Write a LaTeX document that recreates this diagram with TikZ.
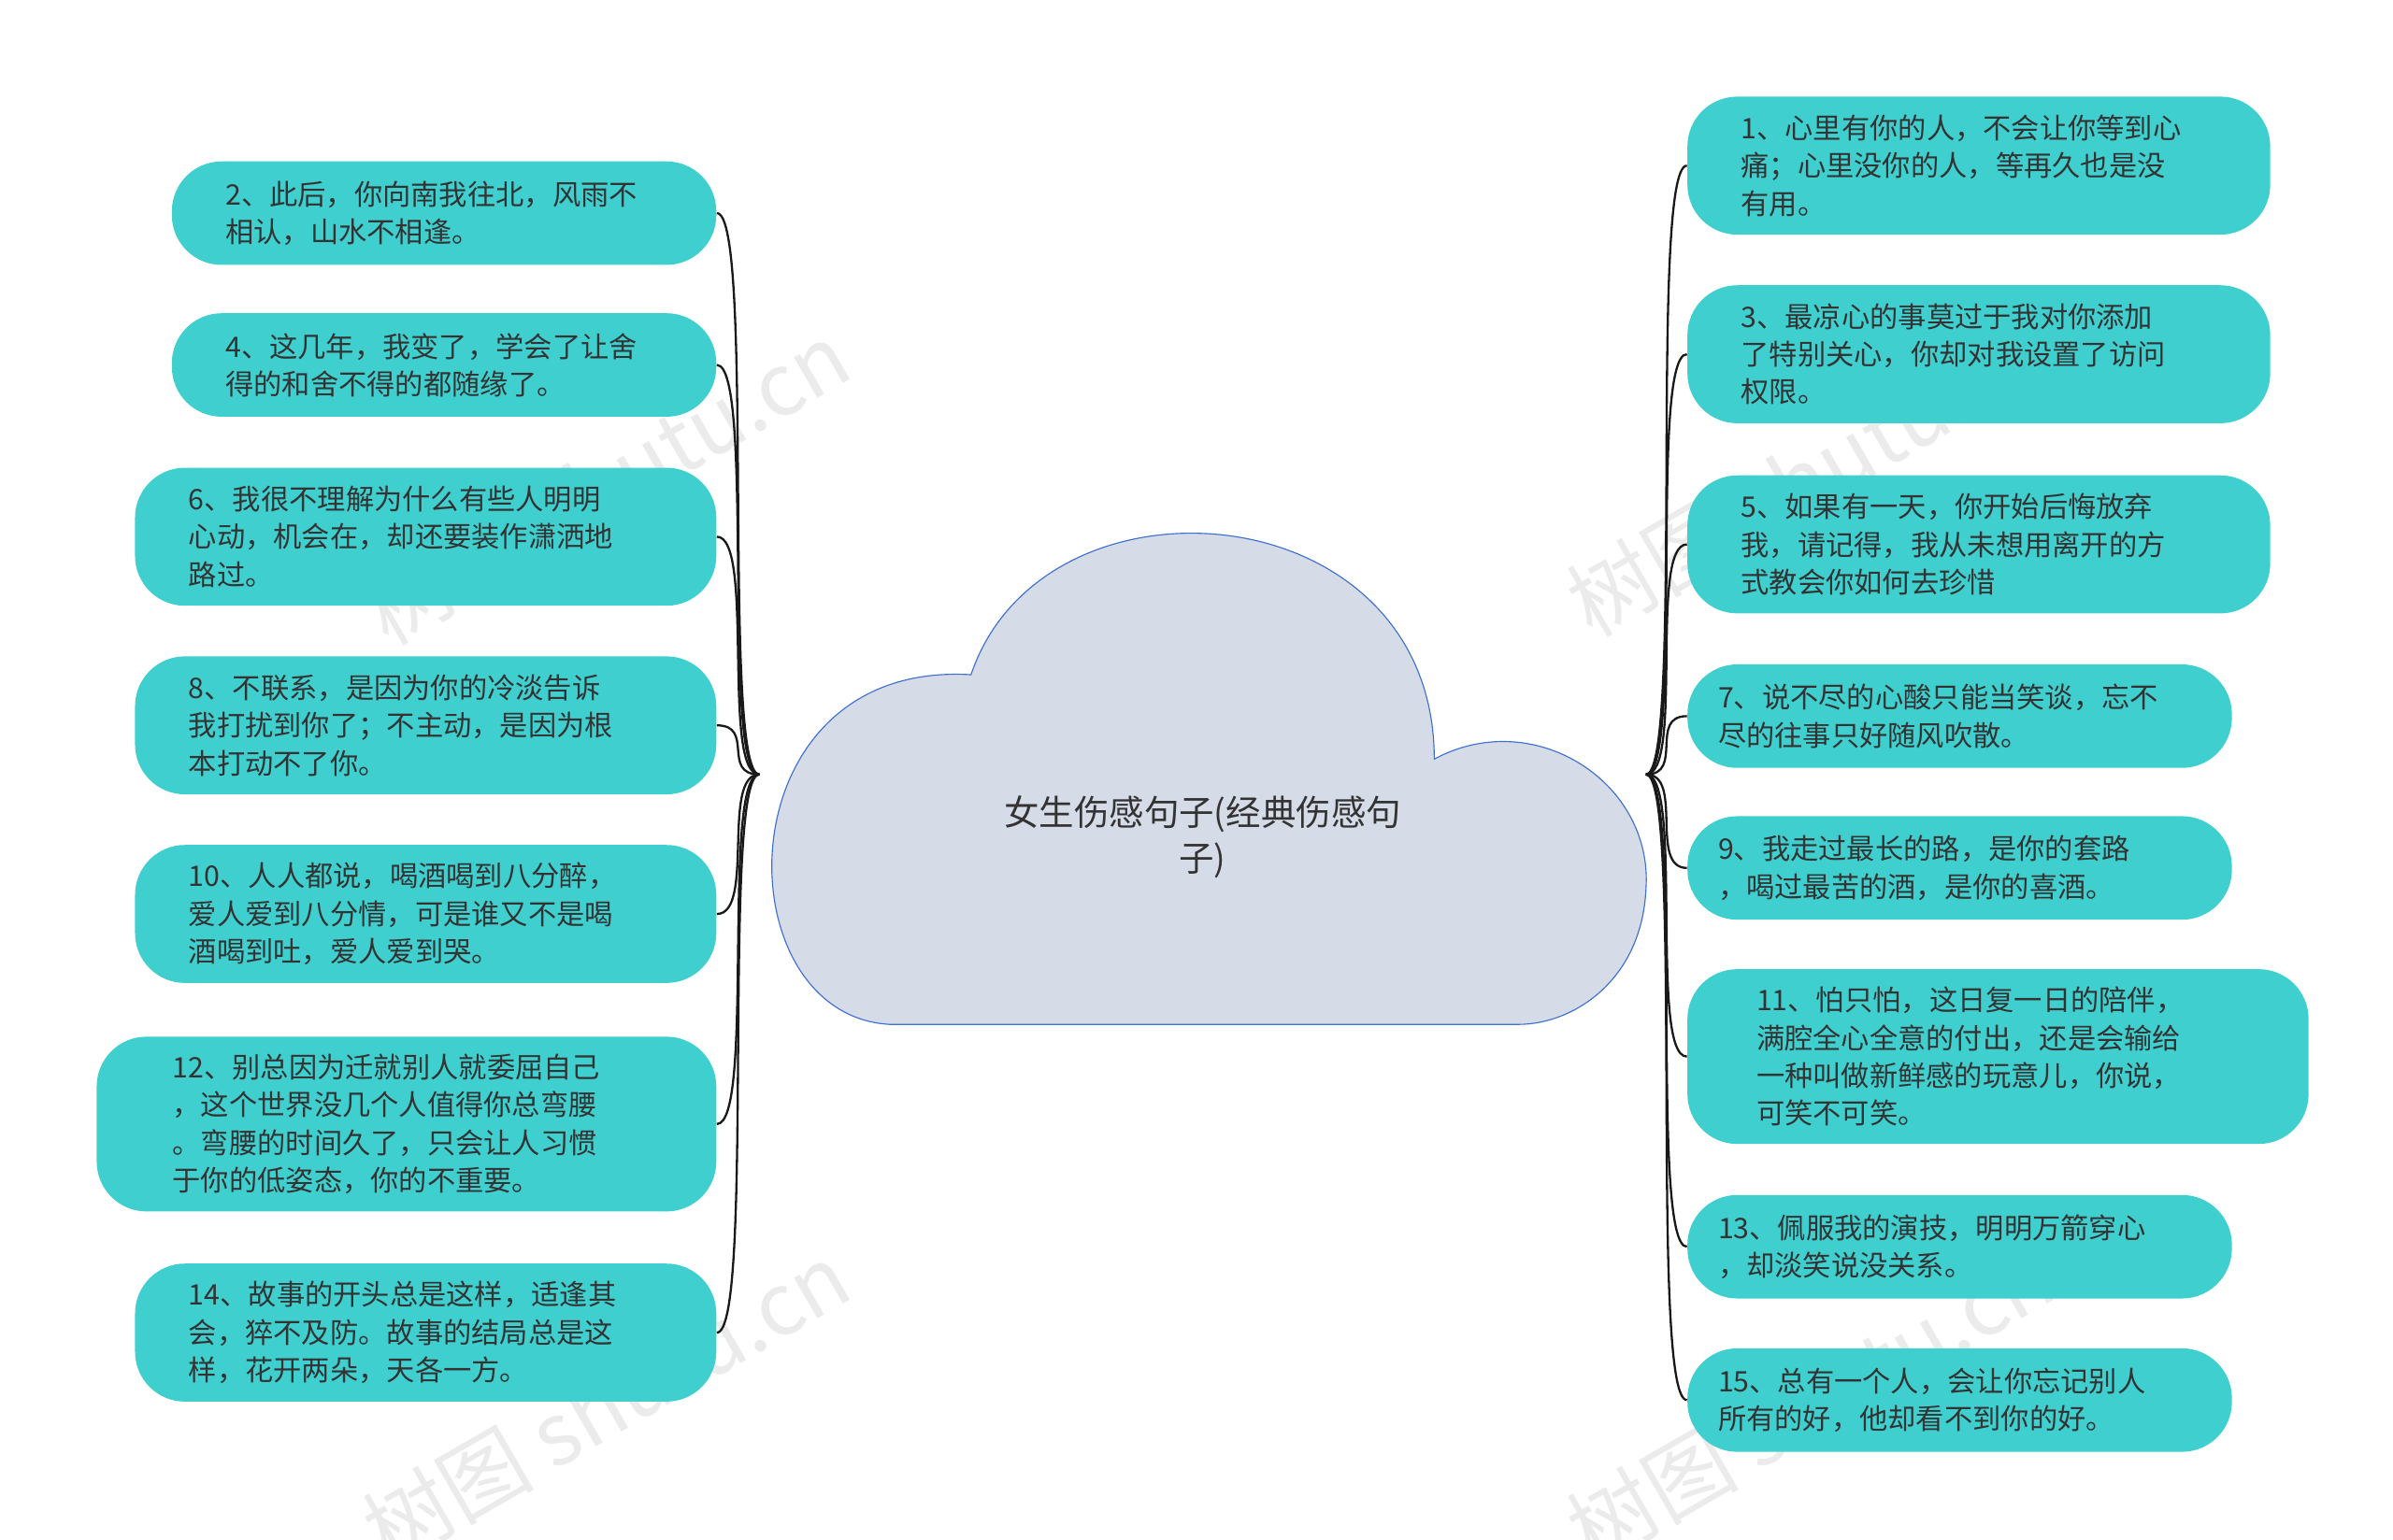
\documentclass[tikz,border=0pt]{standalone}
\usepackage{fontspec}
\setmainfont{Noto Sans CJK SC}
\usetikzlibrary{positioning,calc}
\definecolor{leafc}{HTML}{3FCFCF}
\definecolor{cloudc}{HTML}{D5DCE8}
\definecolor{clouddraw}{HTML}{3F6FD0}
\definecolor{textc}{HTML}{333333}
\tikzstyle{leaf}=[rectangle,fill=leafc,rounded corners=0.65cm,inner xsep=0.7cm,
inner ysep=0pt,align=left,text=textc,font=\fontsize{10.5}{14}\selectfont]
\tikzstyle{link}=[draw=black!90,thick]
\tikzstyle{wmark}=[text=black!8,font=\fontsize{32}{32}\selectfont,rotate=30]
\def \boxh {1.35cm}
\begin{document}
\begin{tikzpicture}[x=0.02cm,y=-0.02cm]
    \useasboundingbox (0,0) rectangle (1560,1004);
    % watermarks
    \node[wmark] (wm1) at (395,315) {树图 shutu.cn};
    \node[wmark] (wm2) at (1180,310) {树图 shutu.cn};
    \node[wmark] (wm3) at (395,915) {树图 shutu.cn};
    \node[wmark] (wm4) at (1180,915) {树图 shutu.cn};
    % cloud
    \draw[fill=cloudc,draw=clouddraw] (580,668) .. controls (470,662) and (470,430) .. (633,440)
        .. controls (680,300) and (935,320) .. (935,495)
        .. controls (1000,460) and (1078,510) .. (1073,580)
        .. controls (1070,640) and (1025,668) .. (990,668) -- cycle;
    \node[text=textc,align=center,font=\fontsize{13}{17}\selectfont] (root) at (784,546)
        {女生伤感句子(经典伤感句\\子)};
    \coordinate (lroot) at (495,505);
    \coordinate (rroot) at (1073,505);
    % left side
    \node[leaf,minimum width=7.1cm,minimum height=\boxh,text width=5.7cm] (n2) at (289.5,139) {2、此后，你向南我往北，风雨不\\相认，山水不相逢。};
    \node[leaf,minimum width=7.1cm,minimum height=\boxh,text width=5.7cm] (n4) at (289.5,238) {4、这几年，我变了，学会了让舍\\得的和舍不得的都随缘了。};
    \node[leaf,minimum width=7.58cm,minimum height=1.8cm,text width=6.18cm] (n6) at (277.5,350) {6、我很不理解为什么有些人明明\\心动，机会在，却还要装作潇洒地\\路过。};
    \node[leaf,minimum width=7.58cm,minimum height=1.8cm,text width=6.18cm] (n8) at (277.5,473) {8、不联系，是因为你的冷淡告诉\\我打扰到你了；不主动，是因为根\\本打动不了你。};
    \node[leaf,minimum width=7.58cm,minimum height=1.8cm,text width=6.18cm] (n10) at (277.5,596) {10、人人都说，喝酒喝到八分醉，\\爱人爱到八分情，可是谁又不是喝\\酒喝到吐，爱人爱到哭。};
    \node[leaf,minimum width=8.08cm,minimum height=2.28cm,text width=6.1cm,inner xsep=0.99cm] (n12) at (265,733) {12、别总因为迁就别人就委屈自己\\，这个世界没几个人值得你总弯腰\\。弯腰的时间久了，只会让人习惯\\于你的低姿态，你的不重要。};
    \node[leaf,minimum width=7.58cm,minimum height=1.8cm,text width=6.18cm] (n14) at (277.5,869) {14、故事的开头总是这样，适逢其\\会，猝不及防。故事的结局总是这\\样，花开两朵，天各一方。};
    % right side
    \node[leaf,minimum width=7.6cm,minimum height=1.8cm,text width=6.2cm] (n1) at (1290,108) {1、心里有你的人，不会让你等到心\\痛；心里没你的人，等再久也是没\\有用。};
    \node[leaf,minimum width=7.6cm,minimum height=1.8cm,text width=6.2cm] (n3) at (1290,231) {3、最凉心的事莫过于我对你添加\\了特别关心，你却对我设置了访问\\权限。};
    \node[leaf,minimum width=7.6cm,minimum height=1.8cm,text width=6.2cm] (n5) at (1290,355) {5、如果有一天，你开始后悔放弃\\我，请记得，我从未想用离开的方\\式教会你如何去珍惜};
    \node[leaf,minimum width=7.1cm,minimum height=\boxh,text width=6.3cm,inner xsep=0.4cm] (n7) at (1277.5,467) {7、说不尽的心酸只能当笑谈，忘不\\尽的往事只好随风吹散。};
    \node[leaf,minimum width=7.1cm,minimum height=\boxh,text width=6.3cm,inner xsep=0.4cm] (n9) at (1277.5,566) {9、我走过最长的路，是你的套路\\，喝过最苦的酒，是你的喜酒。};
    \node[leaf,minimum width=8.1cm,minimum height=2.28cm,text width=6.3cm,inner xsep=0.9cm] (n11) at (1302.5,689) {11、怕只怕，这日复一日的陪伴，\\满腔全心全意的付出，还是会输给\\一种叫做新鲜感的玩意儿，你说，\\可笑不可笑。};
    \node[leaf,minimum width=7.1cm,minimum height=\boxh,text width=6.3cm,inner xsep=0.4cm] (n13) at (1277.5,813) {13、佩服我的演技，明明万箭穿心\\，却淡笑说没关系。};
    \node[leaf,minimum width=7.1cm,minimum height=\boxh,text width=6.3cm,inner xsep=0.4cm] (n15) at (1277.5,913) {15、总有一个人，会让你忘记别人\\所有的好，他却看不到你的好。};
    % links
    \foreach \n in {n2,n4,n6,n8,n10,n12,n14}
        \draw[link] (lroot) .. controls +(-25,0) and +(25,0) .. (\n.east);
    \foreach \n in {n1,n3,n5,n7,n9,n11,n13,n15}
        \draw[link] (rroot) .. controls +(25,0) and +(-25,0) .. (\n.west);
\end{tikzpicture}
\end{document}
